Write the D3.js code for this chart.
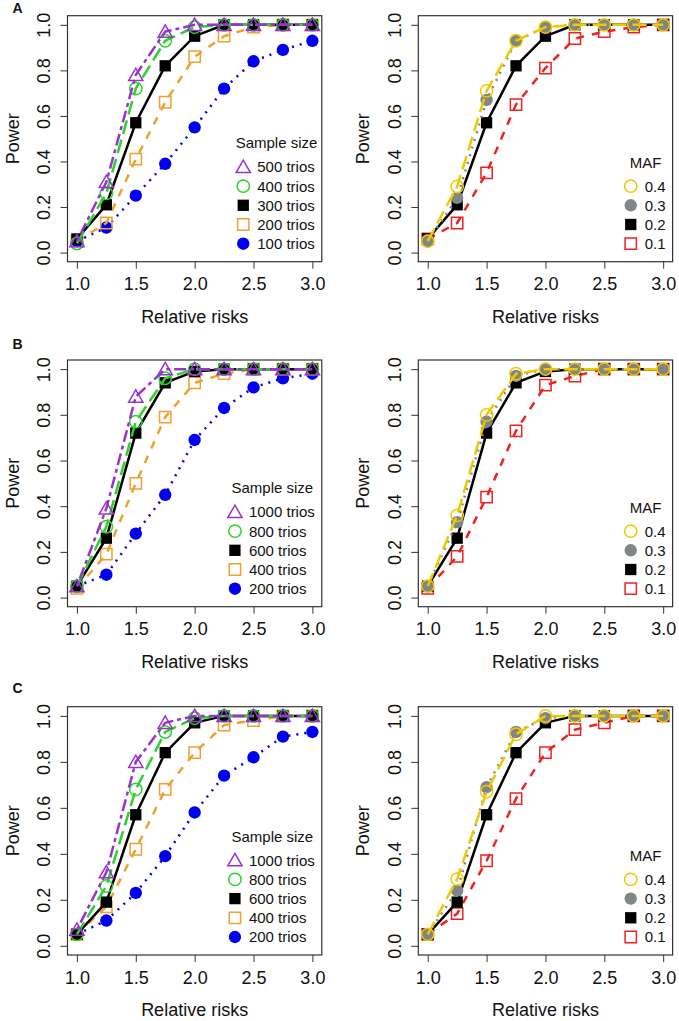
<!DOCTYPE html>
<html>
<head>
<meta charset="utf-8">
<script src="https://cdn.jsdelivr.net/npm/d3@7"></script>
<style>
  body { margin: 0; background: #fff; }
  svg { display: block; font-family: "Liberation Sans", Arial, sans-serif; }
</style>
</head>
<body>
<div id="chart"></div>
<script>
// data --------------------------------------------------------------
const relRisk = [1, 1.25, 1.5, 1.75, 2, 2.25, 2.5, 2.75, 3];
const xTicks = [1, 1.5, 2, 2.5, 3];
const yTicks = [0, 0.2, 0.4, 0.6, 0.8, 1];

const sizeLabelsA = ["500 trios", "400 trios", "300 trios", "200 trios", "100 trios"];
const sizeLabelsBC = ["1000 trios", "800 trios", "600 trios", "400 trios", "200 trios"];
const mafLabels = ["0.4", "0.3", "0.2", "0.1"];

const powerA_size = [
  [0.05, 0.31, 0.78, 0.97, 1.00, 1.00, 1.00, 1.00, 1.00],
  [0.04, 0.26, 0.72, 0.93, 0.99, 1.00, 1.00, 1.00, 1.00],
  [0.06, 0.21, 0.57, 0.82, 0.95, 1.00, 1.00, 1.00, 1.00],
  [0.05, 0.13, 0.41, 0.66, 0.86, 0.95, 0.99, 1.00, 1.00],
  [0.05, 0.11, 0.25, 0.39, 0.55, 0.72, 0.84, 0.89, 0.93]
];
const powerA_maf = [
  [0.05, 0.29, 0.71, 0.93, 0.99, 1.00, 1.00, 1.00, 1.00],
  [0.05, 0.24, 0.67, 0.93, 0.99, 1.00, 1.00, 1.00, 1.00],
  [0.06, 0.21, 0.57, 0.82, 0.95, 1.00, 1.00, 1.00, 1.00],
  [0.06, 0.13, 0.35, 0.65, 0.81, 0.94, 0.97, 0.99, 1.00]
];
const powerB_size = [
  [0.05, 0.39, 0.88, 1.00, 1.00, 1.00, 1.00, 1.00, 1.00],
  [0.05, 0.31, 0.77, 0.96, 1.00, 1.00, 1.00, 1.00, 1.00],
  [0.05, 0.26, 0.72, 0.94, 0.99, 1.00, 1.00, 1.00, 1.00],
  [0.04, 0.19, 0.50, 0.79, 0.94, 0.98, 1.00, 1.00, 1.00],
  [0.05, 0.10, 0.28, 0.45, 0.69, 0.83, 0.92, 0.96, 0.98]
];
const powerB_maf = [
  [0.05, 0.36, 0.80, 0.98, 1.00, 1.00, 1.00, 1.00, 1.00],
  [0.05, 0.33, 0.77, 0.97, 1.00, 1.00, 1.00, 1.00, 1.00],
  [0.05, 0.26, 0.72, 0.94, 0.99, 1.00, 1.00, 1.00, 1.00],
  [0.04, 0.18, 0.44, 0.73, 0.93, 0.97, 1.00, 1.00, 1.00]
];
const powerC_size = [
  [0.07, 0.32, 0.80, 0.97, 1.00, 1.00, 1.00, 1.00, 1.00],
  [0.05, 0.26, 0.68, 0.93, 0.99, 1.00, 1.00, 1.00, 1.00],
  [0.05, 0.19, 0.57, 0.84, 0.97, 1.00, 1.00, 1.00, 1.00],
  [0.05, 0.17, 0.42, 0.68, 0.84, 0.96, 0.98, 1.00, 1.00],
  [0.05, 0.11, 0.23, 0.39, 0.58, 0.74, 0.82, 0.91, 0.93]
];
const powerC_maf = [
  [0.05, 0.29, 0.67, 0.92, 1.00, 1.00, 1.00, 1.00, 1.00],
  [0.05, 0.24, 0.69, 0.93, 0.99, 1.00, 1.00, 1.00, 1.00],
  [0.05, 0.19, 0.57, 0.84, 0.97, 1.00, 1.00, 1.00, 1.00],
  [0.05, 0.14, 0.37, 0.64, 0.84, 0.94, 0.97, 1.00, 1.00]
];

// styles ------------------------------------------------------------
const sizeStyles = [
  {color: "#9a32cd", dash: "4,4,12,4", shape: "triangle", fill: false},
  {color: "#2ed12e", dash: "14,6", shape: "circle", fill: false},
  {color: "#000000", dash: null, shape: "square", fill: true},
  {color: "#f0a030", dash: "8,8", shape: "square", fill: false},
  {color: "#0000ee", dash: "2,6", shape: "circle", fill: true}
];
const mafStyles = [
  {color: "#eec900", dash: "14,6", shape: "circle", fill: false},
  {color: "#808585", dash: "2,6", shape: "circle", fill: true},
  {color: "#000000", dash: null, shape: "square", fill: true},
  {color: "#ee2222", dash: "8,8", shape: "square", fill: false}
];

// layout ------------------------------------------------------------
const W = 679, H = 1021;
const colLeft = [67.5, 418.3];
const plotW = 254.3;
const rows = [
  {top: 15.7, bottom: 261.7, letter: "A", letterY: 13.3, size: powerA_size, maf: powerA_maf, sizeLabels: sizeLabelsA},
  {top: 360, bottom: 606.7, letter: "B", letterY: 349, size: powerB_size, maf: powerB_maf, sizeLabels: sizeLabelsBC},
  {top: 706.7, bottom: 955, letter: "C", letterY: 693, size: powerC_size, maf: powerC_maf, sizeLabels: sizeLabelsBC}
];

const svg = d3.select("#chart").append("svg")
  .attr("width", W)
  .attr("height", H);

function symbolPath(shape) {
  if (shape === "triangle") return d3.symbol(d3.symbolTriangle, 88)();
  if (shape === "circle") return d3.symbol(d3.symbolCircle, 120)();
  return d3.symbol(d3.symbolSquare, 128)();
}

function drawMark(g, x, y, st) {
  g.append("path")
    .attr("d", symbolPath(st.shape))
    .attr("transform", `translate(${x},${y + (st.shape === "triangle" ? 1.5 : 0)})`)
    .attr("fill", st.fill ? st.color : "none")
    .attr("stroke", st.color)
    .attr("stroke-width", st.fill ? 0 : 1.5);
}

function drawPanel(left, row, series, styles, labels, title) {
  const x = d3.scaleLinear().domain([0.92, 3.08]).range([left, left + plotW]);
  const y = d3.scaleLinear().domain([-0.04, 1.04]).range([row.bottom, row.top]);
  const g = svg.append("g");

  // axes
  const xAxis = g.append("g")
    .attr("transform", `translate(0,${row.bottom})`)
    .call(d3.axisBottom(x).tickValues(xTicks).tickFormat(d3.format(".1f")).tickSizeOuter(0).tickSize(7).tickPadding(9));
  xAxis.select(".domain").remove();
  xAxis.selectAll("text").attr("font-size", 18).attr("font-family", "Liberation Sans, Arial").attr("fill", "#111");
  xAxis.selectAll("line").attr("stroke", "#333");

  const yAxis = g.append("g")
    .attr("transform", `translate(${left},0)`)
    .call(d3.axisLeft(y).tickValues(yTicks).tickFormat(d3.format(".1f")).tickSizeOuter(0).tickSize(7));
  yAxis.select(".domain").remove();
  yAxis.selectAll("line").attr("stroke", "#333");
  yAxis.selectAll("text")
    .attr("x", null).attr("dy", null)
    .attr("text-anchor", "middle")
    .attr("transform", "translate(-17.5,0) rotate(-90)")
    .attr("font-size", 18)
    .attr("font-family", "Liberation Sans, Arial")
    .attr("fill", "#111");

  // box
  g.append("rect")
    .attr("x", left).attr("y", row.top)
    .attr("width", plotW).attr("height", row.bottom - row.top)
    .attr("fill", "none").attr("stroke", "#333").attr("stroke-width", 1.2);

  // axis titles
  g.append("text")
    .attr("x", left + plotW / 2).attr("y", row.bottom + 61)
    .attr("text-anchor", "middle").attr("font-size", 18).attr("fill", "#111")
    .text("Relative risks");
  g.append("text")
    .attr("transform", `translate(${left - 49},${(row.top + row.bottom) / 2}) rotate(-90)`)
    .attr("text-anchor", "middle").attr("font-size", 18).attr("fill", "#111")
    .text("Power");

  // series, drawn last-to-first so the first legend entry sits on top
  const line = d3.line().x((d, i) => x(relRisk[i])).y(d => y(d));
  for (let s = series.length - 1; s >= 0; s--) {
    const st = styles[s];
    g.append("path")
      .datum(series[s])
      .attr("d", line)
      .attr("fill", "none")
      .attr("stroke", st.color)
      .attr("stroke-width", 2.5)
      .attr("stroke-dasharray", st.dash);
    series[s].forEach((v, i) => drawMark(g, x(relRisk[i]), y(v), st));
  }

  // legend (bottom right)
  const lg = g.append("g");
  const right = left + plotW;
  const rowGap = 19.2;
  const lastY = row.bottom - 18;
  const firstY = lastY - rowGap * (labels.length - 1);
  const tmp = lg.append("text").attr("font-size", 15);
  let maxW = 0;
  labels.forEach(t => { tmp.text(t); maxW = Math.max(maxW, tmp.node().getComputedTextLength()); });
  tmp.remove();
  const textX = right - 7 - maxW;
  const symX = textX - 14;
  labels.forEach((t, i) => {
    const yy = firstY + i * rowGap;
    drawMark(lg, symX, yy, styles[i]);
    lg.append("text")
      .attr("x", textX).attr("y", yy).attr("dy", "0.36em")
      .attr("font-size", 15).attr("fill", "#111")
      .text(t);
  });
  lg.append("text")
    .attr("x", (symX - 9 + right - 3) / 2).attr("y", firstY - 24).attr("dy", "0.36em")
    .attr("text-anchor", "middle").attr("font-size", 15).attr("fill", "#111")
    .text(title);
}

rows.forEach(row => {
  drawPanel(colLeft[0], row, row.size, sizeStyles, row.sizeLabels, "Sample size");
  drawPanel(colLeft[1], row, row.maf, mafStyles, mafLabels, "MAF");
  svg.append("text")
    .attr("x", 12.5).attr("y", row.letterY)
    .attr("font-size", 14).attr("font-weight", "bold").attr("fill", "#111")
    .text(row.letter);
});
</script>
</body>
</html>
